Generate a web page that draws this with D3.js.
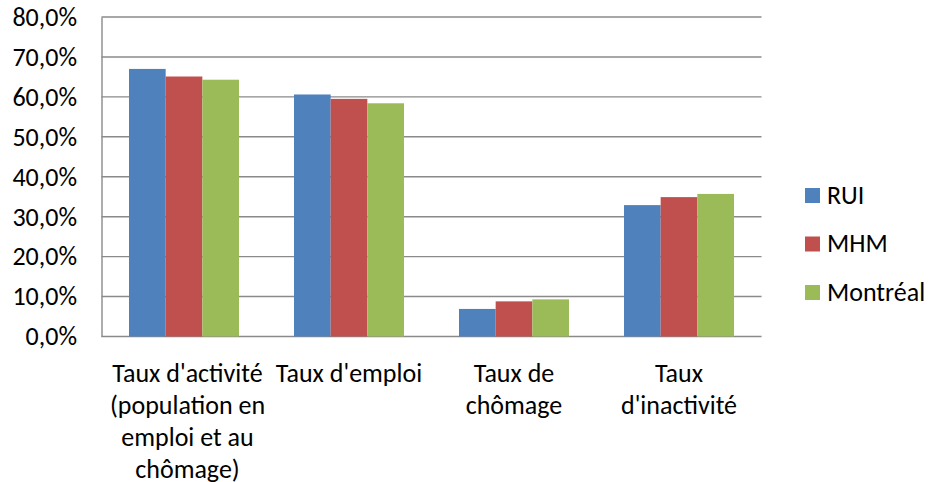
<!DOCTYPE html>
<meta charset="utf-8">
<style>
    html, body { margin: 0; background: #fff; }
    text { font-family: Carlito, Calibri, "Open Sans", sans-serif; fill: #000; }
</style>
<body>
<svg id="chart" width="930" height="482"></svg>
<script src="https://cdnjs.cloudflare.com/ajax/libs/d3/7.8.5/d3.min.js"></script>
<script>
  var categories = [
    ["Taux d'activité", "(population en", "emploi et au", "chômage)"],
    ["Taux d'emploi"],
    ["Taux de", "chômage"],
    ["Taux", "d'inactivité"]
  ];
  var series = ["RUI", "MHM", "Montréal"];
  var rui = [67.0, 60.6, 6.9, 32.9];
  var mhm = [65.1, 59.5, 8.8, 34.9];
  var montreal = [64.3, 58.4, 9.3, 35.7];
  var colors = ["#4F81BD", "#C0504D", "#9BBB59"];
  var yTicks = [0, 10, 20, 30, 40, 50, 60, 70, 80];

  var values = [rui, mhm, montreal];
  var plotLeft = 101.5, plotRight = 761.5, plotTop = 17, plotBottom = 336.5;

  var svg = d3.select("#chart");

  var x0 = d3.scaleBand()
    .domain(d3.range(categories.length))
    .range([plotLeft, plotRight]);
  var x1 = d3.scaleBand()
    .domain(series)
    .range([0, x0.bandwidth()])
    .paddingOuter(0.75);
  var y = d3.scaleLinear().domain([0, 80]).range([plotBottom, plotTop]);

  // gridlines
  svg.append("g")
    .selectAll("line")
    .data(yTicks)
    .enter().append("line")
    .attr("x1", plotLeft).attr("x2", plotRight)
    .attr("y1", function (d) { return y(d); })
    .attr("y2", function (d) { return y(d); })
    .attr("stroke", "#8a8a8a")
    .attr("stroke-width", 1.4);

  // bars
  series.forEach(function (s, si) {
    svg.append("g")
      .selectAll("rect")
      .data(values[si])
      .enter().append("rect")
      .attr("x", function (d, i) { return x0(i) + x1(s); })
      .attr("y", function (d) { return y(d); })
      .attr("width", x1.bandwidth())
      .attr("height", function (d) { return y(0) - y(d); })
      .attr("fill", colors[si]);
  });

  // y axis
  var yAxis = d3.axisLeft(y)
    .tickValues(yTicks)
    .tickSize(0)
    .tickPadding(24.5)
    .tickFormat(function (d) { return d.toFixed(1).replace(".", ",") + "%"; });
  var ya = svg.append("g")
    .attr("transform", "translate(" + plotLeft + ",0)")
    .call(yAxis);
  ya.select(".domain").attr("stroke", "#8a8a8a").attr("stroke-width", 1.4);
  ya.selectAll("text")
    .attr("font-family", null)
    .attr("font-size", null)
    .style("font-size", "26px")
    .attr("fill", "#000");

  // category labels
  var labelShift = [3.5, 0, 0, 0];
  var cat = svg.append("g")
    .selectAll("text")
    .data(categories)
    .enter().append("text")
    .attr("text-anchor", "middle")
    .style("font-size", "26px")
    .attr("x", function (d, i) { return x0(i) + x0.bandwidth() / 2 + labelShift[i]; })
    .attr("y", 382);
  cat.selectAll("tspan")
    .data(function (d) { return d; })
    .enter().append("tspan")
    .attr("x", function () { return d3.select(this.parentNode).attr("x"); })
    .attr("dy", function (d, i) { return i === 0 ? 0 : 32; })
    .text(function (d) { return d; });

  // legend
  var legend = svg.append("g")
    .selectAll("g")
    .data(series)
    .enter().append("g")
    .attr("transform", function (d, i) { return "translate(805," + (188 + i * 48.5) + ")"; });
  legend.append("rect")
    .attr("width", 15).attr("height", 15)
    .attr("fill", function (d, i) { return colors[i]; });
  legend.append("text")
    .attr("x", 22).attr("y", 15.5)
    .style("font-size", "26px")
    .text(function (d) { return d; });
</script>
</body>
